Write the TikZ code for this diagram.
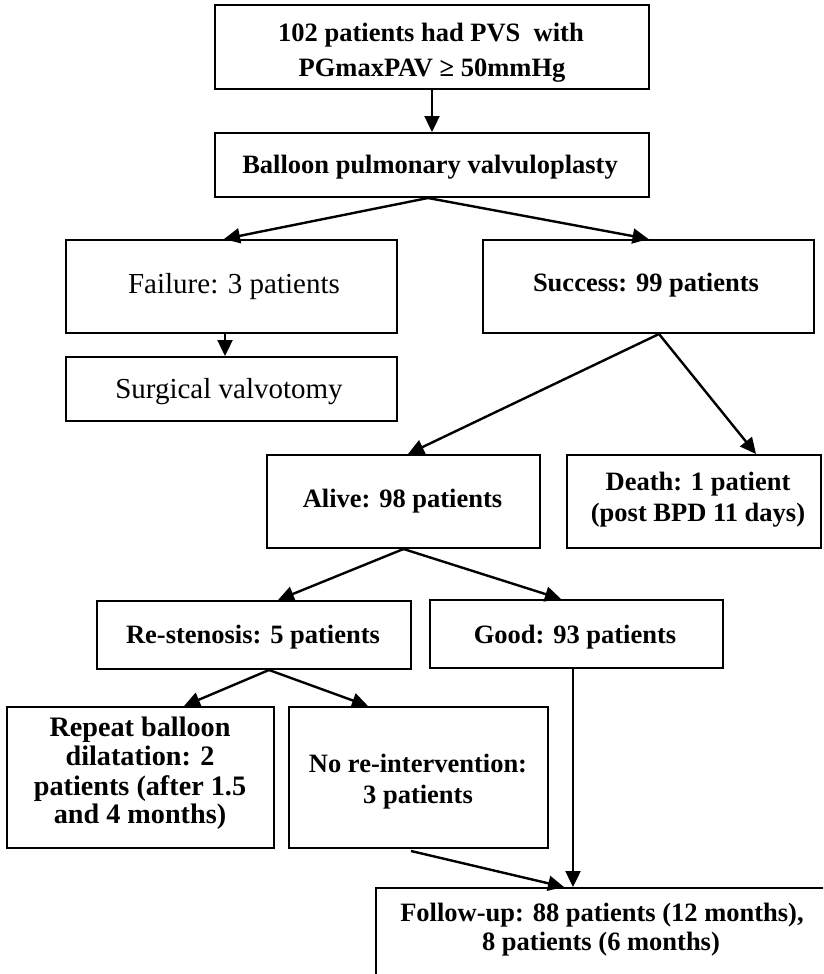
\documentclass[tikz,border=0pt]{standalone}
\usepackage{fontspec}
\setmainfont{Liberation Serif}
\usetikzlibrary{arrows.meta}
\tikzset{
  box/.style={draw, line width=2pt, rectangle, inner sep=0pt, anchor=north west},
  lbl/.style={anchor=base, inner sep=0pt, font=\bfseries\fontsize{26.5}{30}\selectfont},
  lblr/.style={anchor=base, inner sep=0pt, font=\fontsize{29}{33}\selectfont},
  lblbig/.style={anchor=base, inner sep=0pt, font=\bfseries\fontsize{28.2}{32}\selectfont},
  arr/.style={line width=2.4pt, -{Triangle[length=16pt,width=15pt]}},
}
\begin{document}
\begin{tikzpicture}[x=1pt,y=-1pt]
\useasboundingbox (0,0) rectangle (823,974);
\clip (0,0) rectangle (823,974);
\fill[white] (0,0) rectangle (823,974);
% boxes
\node[box, minimum width=434pt, minimum height=84pt] (top) at (214,4) {};
\node[box, minimum width=434pt, minimum height=64pt] (balloon) at (214,132) {};
\node[box, minimum width=331pt, minimum height=93pt] (failure) at (65,239) {};
\node[box, minimum width=331pt, minimum height=64pt] (surgical) at (65,356) {};
\node[box, minimum width=331pt, minimum height=93pt] (success) at (482,239) {};
\node[box, minimum width=273pt, minimum height=93pt] (alive) at (266,454) {};
\node[box, minimum width=254pt, minimum height=93pt] (death) at (566,454) {};
\node[box, minimum width=314pt, minimum height=68pt] (restenosis) at (96,600) {};
\node[box, minimum width=293pt, minimum height=68pt] (good) at (429,599) {};
\node[box, minimum width=267pt, minimum height=141pt] (repeat) at (6,706) {};
\node[box, minimum width=259pt, minimum height=141pt] (noreint) at (288,706) {};
\node[box, minimum width=500pt, minimum height=150pt] (follow) at (375,887) {};
% texts
\node[lbl] (t1a) at (431,42) {102 patients had PVS\ \ with};
\node[lbl] (t1b) at (432,77) {PGmaxPAV ≥ 50mmHg};
\node[lbl] (t2) at (430,173) {Balloon pulmonary valvuloplasty};
\node[lblr] (t3) at (234,293) {Failure: 3 patients};
\node[lblr] (t4) at (229,398) {Surgical valvotomy};
\node[lbl] (t5) at (646,291) {Success: 99 patients};
\node[lbl] (t6) at (402.5,507) {Alive: 98 patients};
\node[lbl] (t7a) at (698,490) {Death: 1 patient};
\node[lbl] (t7b) at (698,521) {(post BPD 11 days)};
\node[lbl] (t8) at (253,643) {Re-stenosis: 5 patients};
\node[lbl] (t9) at (575,643) {Good: 93 patients};
\node[lblbig] (t10a) at (140,736) {Repeat balloon};
\node[lblbig] (t10b) at (140,765) {dilatation: 2};
\node[lblbig] (t10c) at (140,795) {patients (after 1.5};
\node[lblbig] (t10d) at (140,823) {and 4 months)};
\node[lbl] (t11a) at (418,772) {No re-intervention:};
\node[lbl] (t11b) at (418,803) {3 patients};
\node[lbl] (t12a) at (602,921) {Follow-up: 88 patients (12 months),};
\node[lbl] (t12b) at (601,950) {8 patients (6 months)};
% connectors
\draw[arr] (top.south) -- (balloon.north);
\draw[arr] ([xshift=-4pt]balloon.south) -- ([xshift=-7.5pt]failure.north);
\draw[arr] ([xshift=-4pt]balloon.south) -- (success.north);
\draw[arr] ([xshift=-6.5pt]failure.south) -- ([xshift=-6.5pt]surgical.north);
\draw[arr] ([xshift=10.5pt]success.south) -- ([xshift=4.5pt]alive.north);
\draw[arr] ([xshift=10.5pt]success.south) -- ([xshift=62pt]death.north);
\draw[arr] (alive.south) -- ([xshift=24pt]restenosis.north);
\draw[arr] (alive.south) -- ([xshift=-15.5pt]good.north);
\draw[arr] ([xshift=15pt]restenosis.south) -- ([xshift=43.5pt]repeat.north);
\draw[arr] ([xshift=15pt]restenosis.south) -- ([xshift=-50.5pt]noreint.north);
\draw[arr] ([xshift=-3.5pt]good.south) -- ([xshift=-53pt]follow.north);
\draw[arr] ([xshift=-7.5pt,yshift=-2pt]noreint.south) -- ([xshift=-62pt]follow.north);
\end{tikzpicture}
\end{document}
